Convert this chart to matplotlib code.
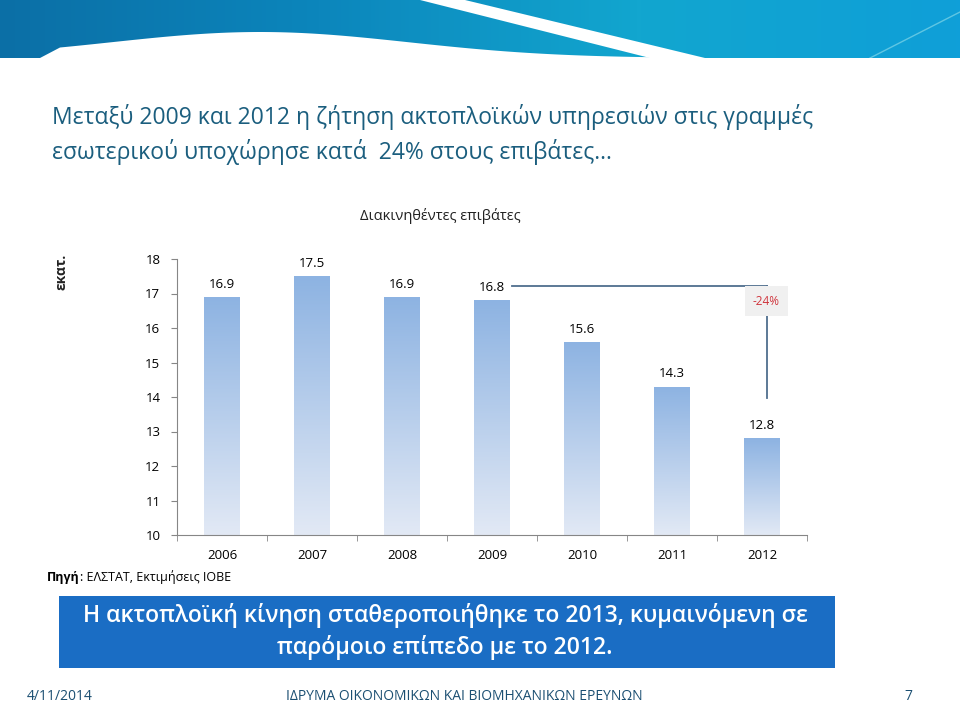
import numpy as np
import matplotlib
matplotlib.use("Agg")
import matplotlib.pyplot as plt
from matplotlib.colors import LinearSegmentedColormap
from matplotlib.patches import Rectangle, Polygon

years = ["2006", "2007", "2008", "2009", "2010", "2011", "2012"]
passengers = [16.9, 17.5, 16.9, 16.8, 15.6, 14.3, 12.8]
yticks = [10, 11, 12, 13, 14, 15, 16, 17, 18]
change_label = "-24%"
chart_title = "Διακινηθέντες επιβάτες"
unit_label = "εκατ."
heading = ["Μεταξύ 2009 και 2012 η ζήτηση ακτοπλοϊκών υπηρεσιών στις γραμμές",
           "εσωτερικού υποχώρησε κατά  24% στους επιβάτες…"]
box_text = ["Η ακτοπλοϊκή κίνηση σταθεροποιήθηκε το 2013, κυμαινόμενη σε",
            "παρόμοιο επίπεδο με το 2012."]
footer_left = "4/11/2014"
footer_mid = "ΙΔΡΥΜΑ ΟΙΚΟΝΟΜΙΚΩΝ ΚΑΙ ΒΙΟΜΗΧΑΝΙΚΩΝ ΕΡΕΥΝΩΝ"
footer_right = "7"

plt.rcParams['font.family'] = ['Open Sans', 'DejaVu Sans']

W, H = 960, 720
fig = plt.figure(figsize=(9.6, 7.2), dpi=100)
fig.patch.set_facecolor("white")

def fx(px):
    return px / W

def fy(py):
    return 1 - py / H

# ---- top banner ----
bax = fig.add_axes([0, fy(58), 1, 58 / H])
bax.set_xlim(0, W)
bax.set_ylim(58, 0)
bax.axis("off")
bcmap = LinearSegmentedColormap.from_list("b", ["#0B6FA6", "#0C86BC", "#12A6CF", "#0F9FD8"])
grad = np.linspace(0, 1, 256).reshape(1, -1)
bax.imshow(grad, cmap=bcmap, aspect="auto", extent=[0, W, 58, 0], zorder=0)
xs = np.linspace(60, 700, 120)
wave = 58 - 26 * np.exp(-((xs - 260) / 210) ** 2)
wave_pts = [(40, 58)] + list(zip(xs, wave)) + [(700, 58)]
bax.add_patch(Polygon(wave_pts, closed=True, facecolor="white", edgecolor="none", zorder=2))
bax.add_patch(Polygon([(420, 0), (465, 0), (705, 58), (650, 58)], closed=True,
                      facecolor="white", edgecolor="none", zorder=2))
bax.plot([870, 960], [58, 12], color="#5FC6E3", lw=1, zorder=3)

# ---- heading ----
fig.text(fx(52), fy(117), heading[0], fontsize=16.5, color="#1B5E7E", va="center", ha="left")
fig.text(fx(52), fy(152), heading[1], fontsize=16.5, color="#1B5E7E", va="center", ha="left")

# ---- chart ----
ax = fig.add_axes([fx(177), fy(535), fx(807) - fx(177), (535 - 259) / H])
x = np.arange(len(years))
bars = ax.bar(x, passengers, width=0.4, color="none", edgecolor="none")
cmap = LinearSegmentedColormap.from_list("g", ["#E2E9F5", "#8DB3E2"])
vgrad = np.linspace(0, 1, 256).reshape(-1, 1)
for b, v in zip(bars, passengers):
    x0 = b.get_x()
    w = b.get_width()
    im = ax.imshow(vgrad, cmap=cmap, aspect="auto", origin="lower",
                   extent=[x0, x0 + w, 10, v], zorder=2)
    im.set_clip_path(b)
    ax.text(b.get_x() + w / 2, v + 0.18, f"{v:.1f}", ha="center", va="bottom",
            fontsize=9.5, color="black", clip_on=False)
ax.set_aspect("auto")
ax.set_xlim(-0.5, len(years) - 0.5)
ax.set_ylim(10, 18)

ax.set_yticks(yticks)
ax.set_yticklabels([str(t) for t in yticks], fontsize=9.5)
ax.set_xticks(x)
ax.set_xticklabels(years, fontsize=9.5)
ax.set_xticks(np.arange(len(years) + 1) - 0.5, minor=True)
ax.tick_params(axis="x", which="major", length=0, pad=10)
ax.tick_params(axis="x", which="minor", length=4, color="#868686", direction="out")
ax.tick_params(axis="y", length=4, color="#868686", direction="out", pad=8)
for s in ["top", "right"]:
    ax.spines[s].set_visible(False)
ax.spines["left"].set_color("#868686")
ax.spines["bottom"].set_color("#868686")

# bracket 2009 -> 2012
ax.plot([3.22, 6.05], [17.22, 17.22], color="#4F6E8E", lw=1.3, clip_on=False, zorder=3)
ax.plot([6.05, 6.05], [17.22, 13.97], color="#4F6E8E", lw=1.3, clip_on=False, zorder=3)
ax.text(6.05, 16.78, change_label, ha="center", va="center", fontsize=8.5, color="#D0343C",
        zorder=4, bbox=dict(boxstyle="square,pad=0.7", facecolor="#F0F0F0", edgecolor="none"))

fig.text(fx(440), fy(216), chart_title, fontsize=10.5, ha="center", va="center", color="#222222")
fig.text(fx(62), fy(272), unit_label, fontsize=10, fontweight="bold", rotation=90,
         ha="center", va="center", color="#222222")

# source
src = fig.text(fx(47), fy(577), "Πηγή", fontsize=9, fontweight="bold", ha="left", va="center")
fig.canvas.draw()
bb = src.get_window_extent()
fig.text(bb.x1 / W, fy(577), ": ΕΛΣΤΑΤ, Εκτιμήσεις ΙΟΒΕ", fontsize=9, ha="left", va="center")

# ---- blue box ----
fig.patches.append(Rectangle((fx(59), fy(668)), fx(835) - fx(59), (668 - 596) / H,
                             transform=fig.transFigure, facecolor="#1A6DC4", edgecolor="none"))
fig.text(fx(445), fy(616), box_text[0], fontsize=16.5, fontweight="semibold", color="white",
         ha="center", va="center")
fig.text(fx(445), fy(648), box_text[1], fontsize=16.5, fontweight="semibold", color="white",
         ha="center", va="center")

# ---- footer ----
fig.text(fx(27), fy(697), footer_left, fontsize=10, color="#1B4F72", ha="left", va="center")
fig.text(fx(464), fy(697), footer_mid, fontsize=10, color="#1B4F72", ha="center", va="center")
fig.text(fx(908), fy(697), footer_right, fontsize=10, color="#1B4F72", ha="center", va="center")

fig.savefig("out.png", dpi=100, facecolor="white")
